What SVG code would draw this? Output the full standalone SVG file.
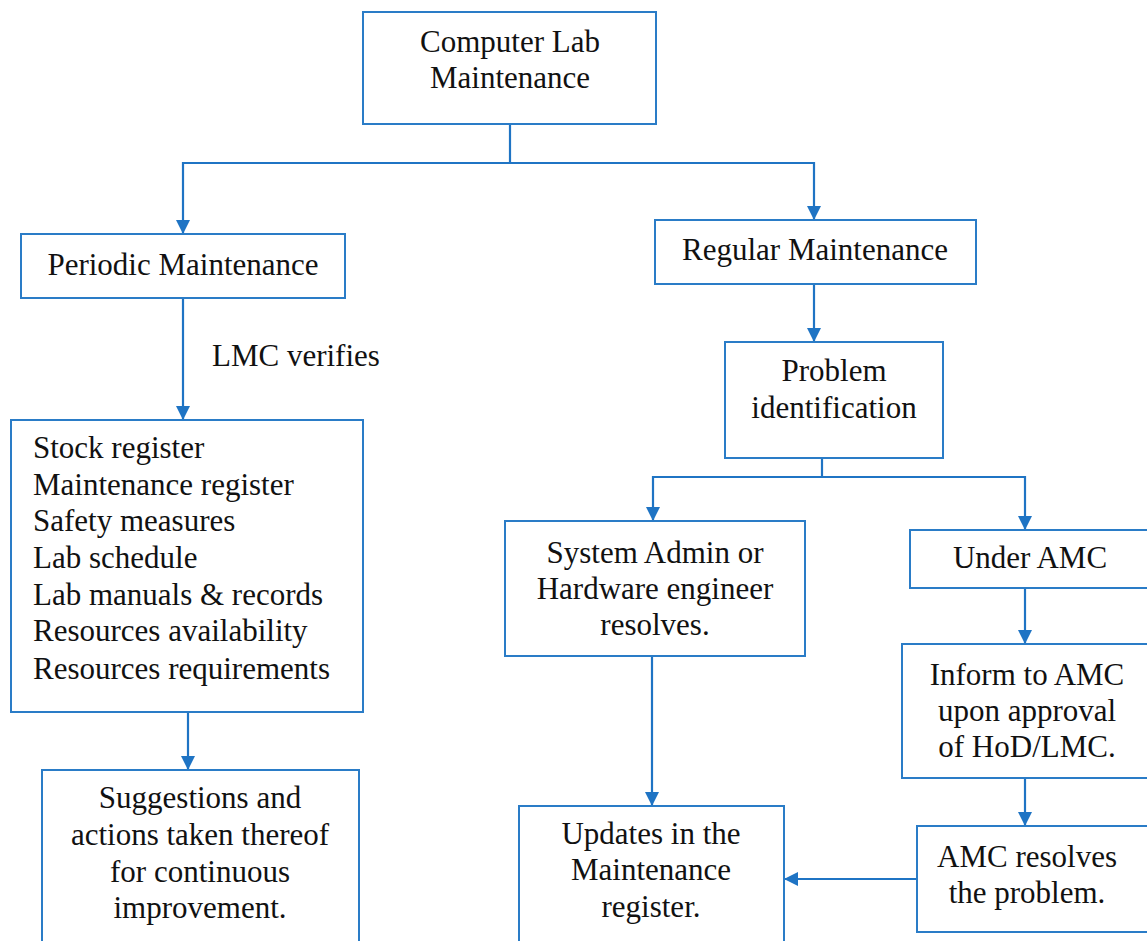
<svg xmlns="http://www.w3.org/2000/svg" width="1147" height="941" viewBox="0 0 1147 941">
  <defs>
    <marker id="arrow" viewBox="0 0 14 14" refX="13" refY="7" markerWidth="14" markerHeight="14" markerUnits="userSpaceOnUse" orient="auto">
      <path d="M0,0 L14,7 L0,14 Z" fill="#1f74c4"/>
    </marker>
    <style>
      .box { fill: #ffffff; stroke: #2a7cc7; stroke-width: 2; }
      .wire { fill: none; stroke: #1f74c4; stroke-width: 2.2; }
    </style>
  </defs>
  <rect width="1147" height="941" fill="#ffffff"/>

  <!-- connectors -->
  <g id="connectors">
    <polyline class="wire" points="510,124 510,163 183,163 183,233" marker-end="url(#arrow)"/>
    <polyline class="wire" points="510,163 814,163 814,219" marker-end="url(#arrow)"/>
    <line class="wire" x1="183" y1="298" x2="183" y2="419" marker-end="url(#arrow)"/>
    <line class="wire" x1="188" y1="712" x2="188" y2="769" marker-end="url(#arrow)"/>
    <line class="wire" x1="814" y1="284" x2="814" y2="341" marker-end="url(#arrow)"/>
    <polyline class="wire" points="822,458 822,477 653,477 653,520" marker-end="url(#arrow)"/>
    <polyline class="wire" points="822,477 1025,477 1025,529" marker-end="url(#arrow)"/>
    <line class="wire" x1="652" y1="656" x2="652" y2="805" marker-end="url(#arrow)"/>
    <line class="wire" x1="1025" y1="588" x2="1025" y2="643" marker-end="url(#arrow)"/>
    <line class="wire" x1="1025" y1="778" x2="1025" y2="825" marker-end="url(#arrow)"/>
    <line class="wire" x1="917" y1="879" x2="785" y2="879" marker-end="url(#arrow)"/>
  </g>

  <g id="n-root">
    <rect class="box" x="363" y="12" width="293" height="112"/>
    <text x="510" y="52" style="font-family: 'Liberation Serif', serif; font-size: 31px; fill: #111; text-anchor: middle">Computer Lab</text>
    <text x="510" y="88" style="font-family: 'Liberation Serif', serif; font-size: 31px; fill: #111; text-anchor: middle">Maintenance</text>
  </g>

  <g id="n-periodic">
    <rect class="box" x="21" y="234" width="324" height="64"/>
    <text x="183" y="275" style="font-family: 'Liberation Serif', serif; font-size: 31px; fill: #111; text-anchor: middle">Periodic Maintenance</text>
  </g>

  <text x="212" y="366" style="font-family: 'Liberation Serif', serif; font-size: 31px; fill: #111">LMC verifies</text>

  <g id="n-checklist">
    <rect class="box" x="11" y="420" width="352" height="292"/>
    <text x="33" y="458" style="font-family: 'Liberation Serif', serif; font-size: 31px; fill: #111">Stock register</text>
    <text x="33" y="495" style="font-family: 'Liberation Serif', serif; font-size: 31px; fill: #111">Maintenance register</text>
    <text x="33" y="531" style="font-family: 'Liberation Serif', serif; font-size: 31px; fill: #111">Safety measures</text>
    <text x="33" y="568" style="font-family: 'Liberation Serif', serif; font-size: 31px; fill: #111">Lab schedule</text>
    <text x="33" y="605" style="font-family: 'Liberation Serif', serif; font-size: 31px; fill: #111">Lab manuals &amp; records</text>
    <text x="33" y="641" style="font-family: 'Liberation Serif', serif; font-size: 31px; fill: #111">Resources availability</text>
    <text x="33" y="679" style="font-family: 'Liberation Serif', serif; font-size: 31px; fill: #111">Resources requirements</text>
  </g>

  <g id="n-suggestions">
    <rect class="box" x="42" y="770" width="317" height="190"/>
    <text x="200" y="808" style="font-family: 'Liberation Serif', serif; font-size: 31px; fill: #111; text-anchor: middle">Suggestions and</text>
    <text x="200" y="845" style="font-family: 'Liberation Serif', serif; font-size: 31px; fill: #111; text-anchor: middle">actions taken thereof</text>
    <text x="200" y="882" style="font-family: 'Liberation Serif', serif; font-size: 31px; fill: #111; text-anchor: middle">for continuous</text>
    <text x="200" y="918" style="font-family: 'Liberation Serif', serif; font-size: 31px; fill: #111; text-anchor: middle">improvement.</text>
  </g>

  <g id="n-regular">
    <rect class="box" x="655" y="220" width="321" height="64"/>
    <text x="815" y="260" style="font-family: 'Liberation Serif', serif; font-size: 31px; fill: #111; text-anchor: middle">Regular Maintenance</text>
  </g>

  <g id="n-problem">
    <rect class="box" x="725" y="342" width="218" height="116"/>
    <text x="834" y="381" style="font-family: 'Liberation Serif', serif; font-size: 31px; fill: #111; text-anchor: middle">Problem</text>
    <text x="834" y="418" style="font-family: 'Liberation Serif', serif; font-size: 31px; fill: #111; text-anchor: middle">identification</text>
  </g>

  <g id="n-sysadmin">
    <rect class="box" x="505" y="521" width="300" height="135"/>
    <text x="655" y="563" style="font-family: 'Liberation Serif', serif; font-size: 31px; fill: #111; text-anchor: middle">System Admin or</text>
    <text x="655" y="599" style="font-family: 'Liberation Serif', serif; font-size: 31px; fill: #111; text-anchor: middle">Hardware engineer</text>
    <text x="655" y="635" style="font-family: 'Liberation Serif', serif; font-size: 31px; fill: #111; text-anchor: middle">resolves.</text>
  </g>

  <g id="n-amc">
    <rect class="box" x="910" y="530" width="250" height="58"/>
    <text x="1030" y="568" style="font-family: 'Liberation Serif', serif; font-size: 31px; fill: #111; text-anchor: middle">Under AMC</text>
  </g>

  <g id="n-inform">
    <rect class="box" x="902" y="644" width="260" height="134"/>
    <text x="1027" y="685" style="font-family: 'Liberation Serif', serif; font-size: 31px; fill: #111; text-anchor: middle">Inform to AMC</text>
    <text x="1027" y="721" style="font-family: 'Liberation Serif', serif; font-size: 31px; fill: #111; text-anchor: middle">upon approval</text>
    <text x="1027" y="757" style="font-family: 'Liberation Serif', serif; font-size: 31px; fill: #111; text-anchor: middle">of HoD/LMC.</text>
  </g>

  <g id="n-amcresolves">
    <rect class="box" x="917" y="826" width="245" height="106"/>
    <text x="1027" y="867" style="font-family: 'Liberation Serif', serif; font-size: 31px; fill: #111; text-anchor: middle">AMC resolves</text>
    <text x="1027" y="903" style="font-family: 'Liberation Serif', serif; font-size: 31px; fill: #111; text-anchor: middle">the problem.</text>
  </g>

  <g id="n-updates">
    <rect class="box" x="519" y="806" width="265" height="160"/>
    <text x="651" y="844" style="font-family: 'Liberation Serif', serif; font-size: 31px; fill: #111; text-anchor: middle">Updates in the</text>
    <text x="651" y="880" style="font-family: 'Liberation Serif', serif; font-size: 31px; fill: #111; text-anchor: middle">Maintenance</text>
    <text x="651" y="917" style="font-family: 'Liberation Serif', serif; font-size: 31px; fill: #111; text-anchor: middle">register.</text>
  </g>
</svg>
